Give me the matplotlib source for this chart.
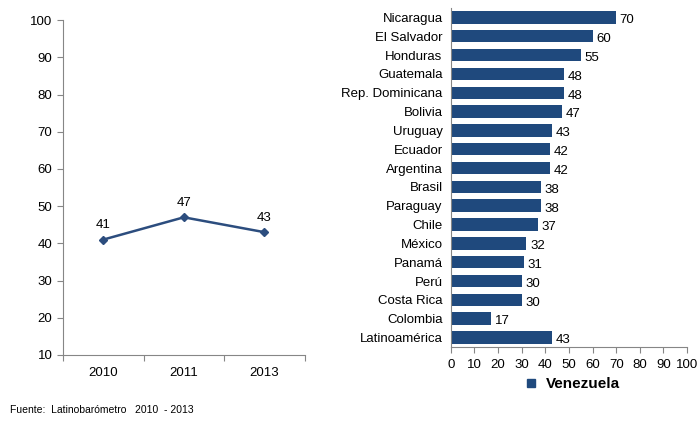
import matplotlib
matplotlib.use("Agg")
import matplotlib.pyplot as plt
from matplotlib.lines import Line2D

plt.rcParams["font.family"] = ["Liberation Sans", "DejaVu Sans"]

years = ["2010", "2011", "2013"]
trend = [41, 47, 43]

countries = ["Nicaragua", "El Salvador", "Honduras", "Guatemala", "Rep. Dominicana",
             "Bolivia", "Uruguay", "Ecuador", "Argentina", "Brasil", "Paraguay",
             "Chile", "México", "Panamá", "Perú", "Costa Rica", "Colombia",
             "Latinoamérica"]
values = [70, 60, 55, 48, 48, 47, 43, 42, 42, 38, 38, 37, 32, 31, 30, 30, 17, 43]

NAVY = "#1f497d"
LINE = "#2c4d7e"
GREY = "#868686"

fig = plt.figure(figsize=(6.99, 4.21), dpi=100)

# Left: trend line
ax = fig.add_axes([0.090, 0.157, 0.346, 0.795])
xs = [0.5, 1.5, 2.5]
ax.plot(xs, trend, color=LINE, lw=1.8, marker="D", ms=4.5, mfc=LINE, mec=LINE)
for x, v in zip(xs, trend):
    ax.text(x, v + 2.2, str(v), ha="center", va="bottom", fontsize=9.5)
ax.set_xlim(0, 3)
ax.set_ylim(10, 100)
ax.set_yticks(range(10, 101, 10))
ax.set_xticks([0, 1, 2, 3])
ax.set_xticklabels([])
ax.set_xticks(xs, minor=True)
ax.set_xticklabels(years, minor=True)
ax.tick_params(axis="x", which="major", length=4, color=GREY)
ax.tick_params(axis="x", which="minor", length=0, pad=9, labelsize=9.5)
ax.tick_params(axis="y", length=4, color=GREY, labelsize=9.5)
for s in ("top", "right"):
    ax.spines[s].set_visible(False)
for s in ("left", "bottom"):
    ax.spines[s].set_color(GREY)

# Right: horizontal bars
bx = fig.add_axes([0.645, 0.176, 0.338, 0.805])
ypos = list(range(len(countries)))
bx.barh(ypos, values, height=0.66, color=NAVY)
for y, v in zip(ypos, values):
    bx.text(v + 1.5, y + 0.15, str(v), va="center", ha="left", fontsize=9.5)
bx.set_ylim(len(countries) - 0.5, -0.5)
bx.set_xlim(0, 100)
bx.set_xticks(range(0, 101, 10))
bx.set_yticks(ypos)
bx.set_yticklabels(countries)
bx.tick_params(axis="y", length=0, labelsize=9.5, pad=6)
bx.tick_params(axis="x", length=4, color=GREY, labelsize=9.5, pad=5)
for s in ("top", "right"):
    bx.spines[s].set_visible(False)
for s in ("left", "bottom"):
    bx.spines[s].set_color(GREY)

handle = Line2D([], [], marker="s", ls="", color=NAVY, ms=6)
fig.legend([handle], ["Venezuela"], loc="center", bbox_to_anchor=(0.812, 0.088),
           frameon=False, handletextpad=0.0, prop={"weight": "bold", "size": 11})

fig.text(0.014, 0.02, "Fuente:  Latinobarómetro   2010  - 2013", fontsize=7.5)

fig.savefig("out.png", dpi=100)
